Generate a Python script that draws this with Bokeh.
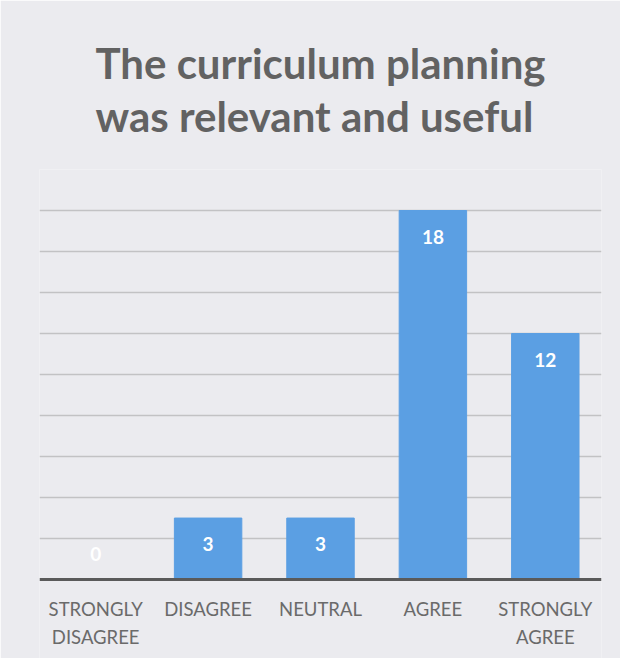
from bokeh.plotting import figure
from bokeh.models import ColumnDataSource, FixedTicker, Title, Span
from bokeh.core.properties import value
from bokeh.embed import file_html
from bokeh.resources import INLINE

categories = ["STRONGLY DISAGREE", "DISAGREE", "NEUTRAL", "AGREE", "STRONGLY AGREE"]
tick_labels = ["STRONGLY\nDISAGREE", "DISAGREE", "NEUTRAL", "AGREE", "STRONGLY\nAGREE"]
counts = [0, 3, 3, 18, 12]
grid_ticks = [2, 4, 6, 8, 10, 12, 14, 16, 18, 20]

# labels sit inside the bar top; an empty bar gets its label just above the baseline
label_offsets = [26 if c > 0 else -26 for c in counts]

src = ColumnDataSource(dict(cat=categories, n=counts, lab=[str(c) for c in counts],
                            tick=tick_labels, base=[0] * len(counts), off=label_offsets))

BG = "#ebebef"
p = figure(x_range=categories, y_range=(-3.85, 20), width=620, height=658,
           output_backend="svg", toolbar_location=None,
           min_border_left=39, min_border_right=19, min_border_top=169,
           min_border_bottom=0, background_fill_color=BG, border_fill_color=BG,
           outline_line_color=None)

p.add_layout(Title(text="The curriculum planning\nwas relevant and useful", align="center",
                   text_font="Lato", text_font_size="42px", text_font_style="bold",
                   text_color="#626262", offset=0, standoff=58, text_line_height=1.06), "above")

p.vbar(x="cat", top="n", width=0.6, source=src, color="#5b9fe3")
p.text(x="cat", y="n", text="lab", source=src, text_color="white",
       text_font=value("Lato"), text_font_size="19px", text_font_style="bold",
       text_align="center", text_baseline="middle", y_offset="off")

# category labels below the baseline
p.text(x="cat", y="base", text="tick", source=src, text_color="#6a6a6a",
       text_font=value("Lato"), text_font_size="18.5px",
       text_align="center", text_baseline="top", y_offset=18, text_line_height=1.27)

p.add_layout(Span(location=0, dimension="width", line_color="#5a5a5a", line_width=3))

p.yaxis.visible = False
p.xaxis.visible = False
p.ygrid.ticker = FixedTicker(ticks=grid_ticks)
p.ygrid.grid_line_color = "#c2c2c4"
p.ygrid.grid_line_width = 1.5
p.xgrid.grid_line_color = None
p.x_range.range_padding = 0

open("out.html", "w").write(file_html(p, INLINE))
